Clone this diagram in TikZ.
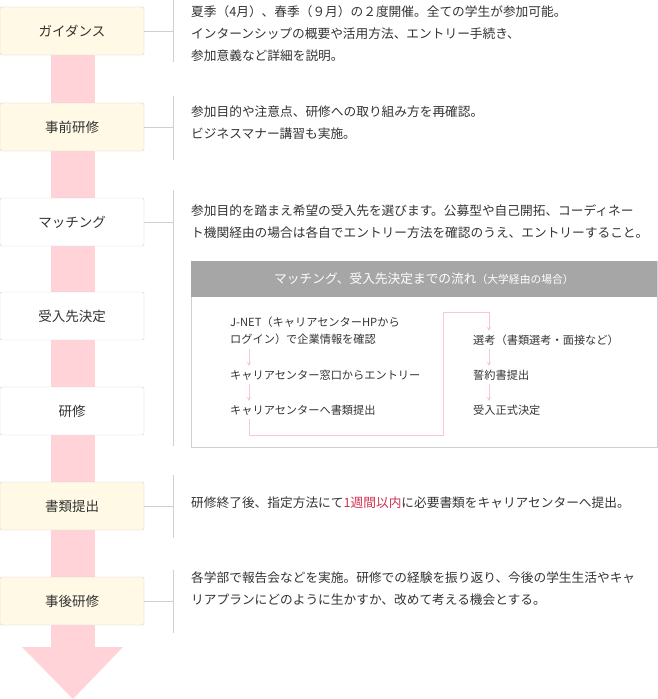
\documentclass[tikz,border=0pt]{standalone}
\usepackage{fontspec}
\setmainfont{Noto Sans CJK JP}
\usetikzlibrary{arrows.meta}
\definecolor{cream}{HTML}{FFF9E5}
\definecolor{pinkbar}{HTML}{FFD3D8}
\definecolor{boxline}{HTML}{D0D0D0}
\definecolor{txt}{HTML}{333333}
\definecolor{hdr}{HTML}{A6A6A6}
\definecolor{redtxt}{HTML}{D0304F}
\definecolor{plink}{HTML}{F8C8CE}
\tikzset{
 stepbox/.style={draw=boxline, rounded corners=2pt, minimum width=144pt, minimum height=48pt, anchor=center, font=\fontsize{13.5}{15}\selectfont, text=txt},
 creambox/.style={stepbox, fill=cream},
 whitebox/.style={stepbox, fill=white},
 desc/.style={anchor=north west, align=left, font=\fontsize{12.7}{22}\selectfont, text=txt, inner sep=0pt},
 small/.style={anchor=west, align=left, font=\fontsize{11.2}{17}\selectfont, text=txt, inner sep=0pt},
 brk/.style={draw=boxline, line width=0.7pt},
 flow/.style={draw=plink, line width=0.8pt},
 flowa/.style={flow, -{Stealth[length=4pt,width=4pt]}}
}
\begin{document}
\begin{tikzpicture}[x=1pt,y=-1pt]
\useasboundingbox (0,0) rectangle (658,699);
% big arrow
\fill[pinkbar] (51,40) rectangle (95,648);
\fill[pinkbar] (22,647) -- (123,647) -- (73,699) -- cycle;
% boxes
\node[creambox] (b1) at (72,31) {ガイダンス};
\node[creambox] (b2) at (72,127) {事前研修};
\node[whitebox] (b3) at (72,222) {マッチング};
\node[whitebox] (b4) at (72,316) {受入先決定};
\node[whitebox] (b5) at (72,411) {研修};
\node[creambox] (b6) at (72,506) {書類提出};
\node[creambox] (b7) at (72,601) {事後研修};
% brackets
\coordinate (k1) at (173,31); \draw[brk] (173,0) -- (173,62); \draw[brk] (b1.east) -- (k1);
\coordinate (k2) at (173,127); \draw[brk] (173,96) -- (173,160); \draw[brk] (b2.east) -- (k2);
\coordinate (k3) at (173,222); \draw[brk] (173,190) -- (173,446); \draw[brk] (b3.east) -- (k3);
\coordinate (k6) at (173,506); \draw[brk] (173,475) -- (173,538); \draw[brk] (b6.east) -- (k6);
\coordinate (k7) at (173,601); \draw[brk] (173,570) -- (173,633); \draw[brk] (b7.east) -- (k7);
% descriptions
\node[desc] (d1) at (191,5) {夏季（4月）、春季（９月）の２度開催。全ての学生が参加可能。\\インターンシップの概要や活用方法、エントリー手続き、\\参加意義など詳細を説明。};
\node[desc] (d2) at (191,106) {参加目的や注意点、研修への取り組み方を再確認。\\ビジネスマナー講習も実施。};
\node[desc] (d3) at (191,204) {参加目的を踏まえ希望の受入先を選びます。公募型や自己開拓、コーディネー\\ト機関経由の場合は各自でエントリー方法を確認のうえ、エントリーすること。};
\node[desc] (d6) at (191,497) {研修終了後、指定方法にて{\color{redtxt}1週間以内}に必要書類をキャリアセンターへ提出。};
\node[desc] (d7) at (191,572) {各学部で報告会などを実施。研修での経験を振り返り、今後の学生生活やキャ\\リアプランにどのように生かすか、改めて考える機会とする。};
% inner box
\draw[boxline, line width=0.7pt] (191,261) rectangle (657,447);
\fill[hdr] (191,261) rectangle (657,297);
\node[text=white, font=\fontsize{12.7}{14}\selectfont, anchor=center] (hd) at (424,279) {マッチング、受入先決定までの流れ{\fontsize{10.8}{12}\selectfont（大学経由の場合）}};
\node[small] (l1) at (230,331) {J-NET（キャリアセンターHPから\\ログイン）で企業情報を確認};
\node[small] (l2) at (230,375) {キャリアセンター窓口からエントリー};
\node[small] (l3) at (230,410) {キャリアセンターへ書類提出};
\node[small] (r1) at (473,340) {選考（書類選考・面接など）};
\node[small] (r2) at (473,375) {誓約書提出};
\node[small] (r3) at (473,410) {受入正式決定};
\draw[flowa] (249,349) -- (249,366);
\draw[flowa] (249,384) -- (249,401);
\draw[flowa] (489,349) -- (489,366);
\draw[flowa] (489,384) -- (489,401);
\draw[flow] (249,419) -- (249,435) -- (443,435) -- (443,312) -- (489,312);
\draw[flowa] (489,312) -- (489,331);
\end{tikzpicture}
\end{document}
